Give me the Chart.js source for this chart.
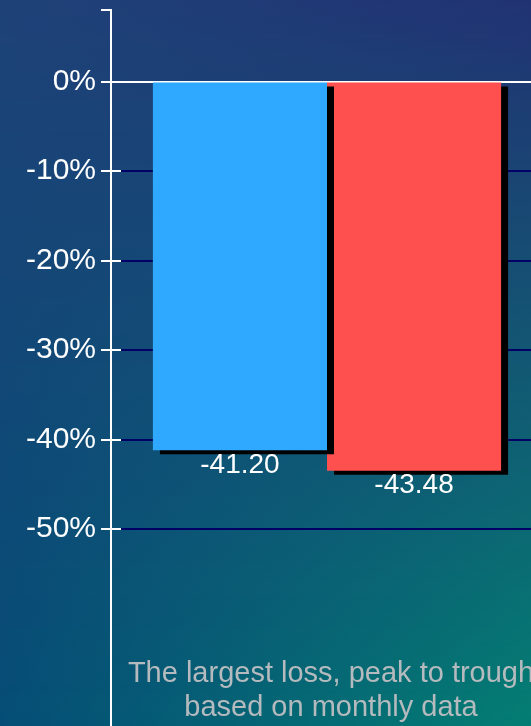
<!DOCTYPE html>
<html>
<head>
<meta charset="utf-8">
<script src="https://cdn.jsdelivr.net/npm/chart.js@4/dist/chart.umd.min.js"></script>
<style>
  html, body { margin: 0; padding: 0; overflow: hidden; background: #0b4a74; }
  #wrap { width: 543px; height: 726px; }
</style>
</head>
<body>
<div id="wrap"><canvas id="chart" width="543" height="726"></canvas></div>
<script>
// data
var categories = ["Max drawdown"];
var seriesNames = ["Fund", "Benchmark"];
var drawdowns = [-41.20, -43.48];
var barColors = ["#2ea9ff", "#ff5050"];
var tickValues = [0, -10, -20, -30, -40, -50];
var axisMin = -72;
var axisMax = 8;
var captionLines = ["The largest loss, peak to trough", "based on monthly data"];

var FONT = "'Liberation Sans', Arial, sans-serif";

// background: four corner colours, blended in thin strips
var bgPlugin = {
  id: "bg",
  beforeDraw: function (chart) {
    var ctx = chart.ctx;
    var w = chart.width, h = chart.height;
    var tl = [30, 66, 120], tr = [33, 50, 115], bl = [5, 77, 118], br = [3, 127, 115];
    function mix(a, b, t) {
      return [0, 1, 2].map(function (i) { return Math.round(a[i] + (b[i] - a[i]) * t); });
    }
    ctx.save();
    for (var y = 0; y < h; y += 2) {
      var t = y / h;
      var l = mix(tl, bl, t), r = mix(tr, br, t);
      var g = ctx.createLinearGradient(0, 0, w, 0);
      g.addColorStop(0, "rgb(" + l.join(",") + ")");
      g.addColorStop(1, "rgb(" + r.join(",") + ")");
      ctx.fillStyle = g;
      ctx.fillRect(0, y, w, 2);
    }
    ctx.restore();
  }
};

// black drop shadow behind the bars
var shadowPlugin = {
  id: "shadow",
  beforeDatasetDraw: function (chart) {
    var ctx = chart.ctx;
    ctx.save();
    ctx.shadowColor = "#000";
    ctx.shadowOffsetX = 7;
    ctx.shadowOffsetY = 4;
    ctx.shadowBlur = 0;
  },
  afterDatasetDraw: function (chart) {
    chart.ctx.restore();
  }
};

// value labels, short white tick stubs and the caption
var extrasPlugin = {
  id: "extras",
  afterDraw: function (chart) {
    var ctx = chart.ctx;
    var y = chart.scales.y;
    var area = chart.chartArea;
    ctx.save();

    ctx.strokeStyle = "#fff";
    ctx.lineWidth = 2;
    tickValues.forEach(function (v) {
      if (v === 0) return;
      var py = Math.round(y.getPixelForValue(v));
      ctx.beginPath();
      ctx.moveTo(area.left, py);
      ctx.lineTo(area.left + 10, py);
      ctx.stroke();
    });

    ctx.fillStyle = "#fff";
    ctx.font = "28px " + FONT;
    ctx.textAlign = "center";
    ctx.textBaseline = "top";
    chart.data.datasets.forEach(function (ds, i) {
      var bar = chart.getDatasetMeta(i).data[0];
      ctx.fillText(ds.data[0].toFixed(2), bar.x, bar.y + 1);
    });

    ctx.fillStyle = "#b4babd";
    ctx.font = "29px " + FONT;
    ctx.textBaseline = "alphabetic";
    var cx = (area.left + area.right) / 2 + 4;
    ctx.fillText(captionLines[0], cx, 682);
    ctx.fillText(captionLines[1], cx, 716);
    ctx.restore();
  }
};

var datasets = seriesNames.map(function (name, i) {
  return {
    label: name,
    data: [drawdowns[i]],
    backgroundColor: barColors[i],
    borderWidth: 0,
    barPercentage: 1,
    categoryPercentage: 0.806
  };
});

new Chart(document.getElementById("chart"), {
  type: "bar",
  data: { labels: categories, datasets: datasets },
  plugins: [bgPlugin, shadowPlugin, extrasPlugin],
  options: {
    responsive: false,
    animation: false,
    layout: { padding: { top: 10, left: 0, right: 0, bottom: 0 } },
    plugins: {
      legend: { display: false },
      tooltip: { enabled: false }
    },
    scales: {
      x: { display: false },
      y: {
        min: axisMin,
        max: axisMax,
        afterFit: function (scale) {
          scale.width = 111;
          scale.paddingTop = 0;
          scale.paddingBottom = 0;
        },
        afterBuildTicks: function (scale) {
          scale.ticks = [{ value: axisMax }].concat(tickValues.map(function (v) { return { value: v }; }));
        },
        ticks: {
          autoSkip: false,
          color: "#fff",
          padding: 5,
          font: { family: FONT, size: 30 },
          callback: function (v) { return v === axisMax ? "" : v + "%"; }
        },
        grid: {
          drawOnChartArea: true,
          tickLength: 10,
          tickColor: "#fff",
          tickWidth: 2,
          lineWidth: 2,
          color: function (c) {
            if (!c.tick) return "transparent";
            if (c.tick.value === 0) return "#ffffff";
            if (c.tick.value === axisMax) return "transparent";
            return "#000066";
          }
        },
        border: { display: true, color: "#fff", width: 2 }
      }
    }
  }
});
</script>
</body>
</html>
